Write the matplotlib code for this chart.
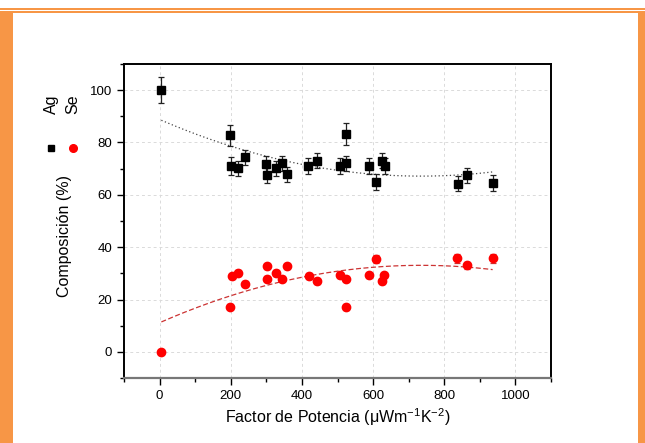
import numpy as np
import matplotlib.pyplot as plt
from matplotlib.patches import Rectangle
from matplotlib.lines import Line2D

plt.rcParams['font.family'] = ['Liberation Sans', 'DejaVu Sans']
plt.rcParams['mathtext.default'] = 'regular'

# datos
x_ag = [5, 199, 201, 220, 241, 300, 301, 328, 345, 358, 417, 441, 508, 525, 525,
        589, 607, 624, 633, 839, 865, 936]
y_ag = [100, 82.8, 71.0, 70.1, 74.3, 71.8, 67.4, 70.1, 72.0, 67.8, 71.1, 73.1, 71.0,
        83.2, 72.0, 71.0, 64.8, 73.1, 71.0, 64.3, 67.4, 64.5]
err_ag = [5, 4, 3.5, 3, 3, 3, 3, 3, 3, 3, 3, 3, 3, 4.2, 3, 3, 3, 3, 3, 3, 3, 3]

x_se = [5, 198, 203, 220, 241, 302, 302, 328, 345, 358, 419, 442, 508, 523, 525,
        588, 607, 626, 632, 837, 863, 936]
y_se = [0, 17.3, 28.9, 30.1, 26.0, 32.7, 28.0, 30.1, 28.0, 32.7, 29.0, 27.0, 29.2,
        28.0, 17.1, 29.2, 35.5, 27.1, 29.2, 35.7, 33.0, 35.7]
err_se = [0.5, 1, 1, 1, 1, 1, 1, 1, 1, 1, 1, 1, 1, 1, 1, 1, 1.5, 1, 1, 1.8, 1.5, 1.8]

xticks = [0, 200, 400, 600, 800, 1000]
yticks = [0, 20, 40, 60, 80, 100]

W, H = 645, 443
fig = plt.figure(figsize=(W / 100, H / 100), dpi=100)
ax = fig.add_axes([124 / W, 1 - 378 / H, (551 - 124) / W, (378 - 64) / H])

# marco naranja
orange = '#F79646'
fig.add_artist(Rectangle((0, 1 - 9.5 / H), 1, 1.5 / H, transform=fig.transFigure, color=orange, lw=0))
fig.add_artist(Rectangle((0, 1 - 12.8 / H), 1, 2.1 / H, transform=fig.transFigure, color=orange, lw=0))
fig.add_artist(Rectangle((0, 0), 12.7 / W, 1 - 10.7 / H, transform=fig.transFigure, color=orange, lw=0))
fig.add_artist(Rectangle((638.3 / W, 0), 1 - 638.3 / W, 1 - 10.7 / H, transform=fig.transFigure, color=orange, lw=0))

ax.set_axisbelow(True)
ax.grid(True, which='major', linestyle=(0, (3, 3)), color='#dadada', linewidth=0.7)

# ajustes polinomicos
xf = np.linspace(min(x_ag), max(x_ag), 200)
p_ag = np.polyfit(x_ag, y_ag, 2)
p_se = np.polyfit(x_se, y_se, 2)
ax.plot(xf, np.polyval(p_ag, xf), linestyle=(0, (1, 2)), color='#444444', linewidth=0.9)
ax.plot(xf, np.polyval(p_se, xf), linestyle=(0, (4, 2)), color='#cc3333', linewidth=0.9)

ax.errorbar(x_ag, y_ag, yerr=err_ag, fmt='s', color='black', markersize=5.5,
            ecolor='#222222', elinewidth=0.9, capsize=2.5, capthick=0.9)
ax.errorbar(x_se, y_se, yerr=err_se, fmt='o', color='#ff0000', markersize=6,
            ecolor='#cc3333', elinewidth=0.9, capsize=2.5, capthick=0.9)

ax.set_xlim(-100, 1100)
ax.set_ylim(-10, 110)
ax.set_xticks(xticks)
ax.set_yticks(yticks)
ax.set_xticks([-100, 100, 300, 500, 700, 900, 1100], minor=True)
ax.set_yticks([-10, 10, 30, 50, 70, 90, 110], minor=True)
ax.tick_params(which='major', direction='out', length=5, width=1, labelsize=9.5, color='black')
ax.tick_params(which='minor', direction='out', length=3, width=1, color='black')

for s in ['left', 'right', 'top']:
    ax.spines[s].set_linewidth(1.4)
    ax.spines[s].set_color('black')
ax.spines['bottom'].set_linewidth(1.6)
ax.spines['bottom'].set_color('#777777')

ax.set_xlabel('Factor de Potencia (\u03bcWm$^{-1}$K$^{-2}$)', fontsize=11.5, labelpad=3)
fig.text(65 / W, 1 - 236 / H, 'Composición (%)', rotation=90, fontsize=11.5,
         ha='center', va='center')

# leyenda girada
fig.text(51 / W, 1 - 104 / H, 'Ag', rotation=90, fontsize=11.5, ha='center', va='center')
fig.text(73 / W, 1 - 104 / H, 'Se', rotation=90, fontsize=11.5, ha='center', va='center')
fig.add_artist(Line2D([51 / W], [1 - 148 / H], marker='s', color='black', markersize=4.5,
                      transform=fig.transFigure))
fig.add_artist(Line2D([73 / W], [1 - 148 / H], marker='o', color='#ff0000', markersize=5.5,
                      transform=fig.transFigure))

fig.savefig('out.png', dpi=100)
